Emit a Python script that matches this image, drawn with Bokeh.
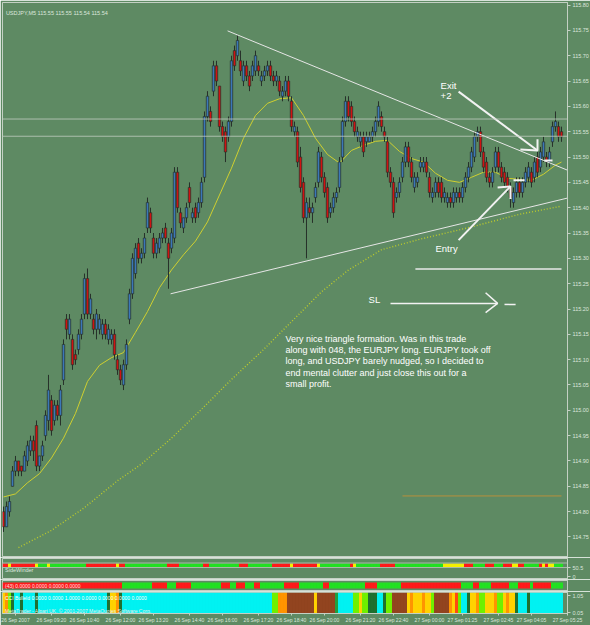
from bokeh.plotting import figure
from bokeh.models import Range1d, FixedTicker, Label, ColumnDataSource, PrintfTickFormatter, Span
from bokeh.layouts import column
from bokeh.embed import file_html
from bokeh.resources import INLINE
from bokeh.core.properties import value

# ---------------- data ----------------
SYMBOL_TITLE = "USDJPY,M5  115.55 115.55 115.54 115.54"
BASE_PRICE = 114.00          # all *_pips values are pips (0.01) above this price

open_pips = [80,77,80,85,88,90,89,88,90,92, 94,97,89,91,95,98,102,98,101,99,
             106,118,115,114,111,112,115,119,126,119, 118,116,116,115,117,114,114,115,110,108,
             105,109,118,123,127,133,130,131,136,139, 134,131,132,134,136,133,132,134,147,139,
             136,138,144,138,140,139,141,146,158,159, 163,168,164,156,155,154,157,171,170,169,
             165,168,166,166,167,168,165,166,167,168, 166,165,165,162,163,165,161,155,155,150,
             145,138,140,139,142,145,150,146,144,139, 140,142,144,150,157,161,160,157,154,153,
             154,153,153,154,155,157,158,155,153,147, 145,142,143,146,149,152,149,144,145,148,
             148,149,146,142,143,145,145,142,141,142, 141,142,143,142,144,146,148,150,154,155,
             151,149,146,145,148,151,148,147,146,144, 141,143,145,143,145,146,147,146,150,148,
             150,150,149,153,156,156,155]
high_pips = [81,82,83,89,91,90,89,92,94,95, 95,98,91,94,100,107,103,102,102,105,
             114,119,119,115,112,116,119,127,128,123, 119,120,119,118,118,117,116,116,111,109,
             110,114,124,131,133,134,132,135,142,140, 135,134,135,136,137,134,136,148,148,140,
             138,141,145,140,141,142,146,159,163,160, 169,169,164,157,156,158,170,172,174,171,
             169,169,167,169,171,169,167,168,169,169, 167,167,166,164,166,166,162,157,156,152,
             146,142,142,141,145,152,151,147,145,141, 143,144,150,158,162,162,161,158,156,155,
             155,155,155,156,158,161,159,156,154,148, 146,144,146,150,153,153,150,147,147,150,
             150,150,147,144,146,146,146,144,143,143, 144,144,144,145,147,149,152,155,156,156,
             152,150,147,148,152,152,149,148,147,145, 144,146,146,146,148,149,148,150,151,152,
             154,151,152,157,159,157,156]
low_pips = [76,77,79,85,87,87,87,88,89,91, 90,88,88,90,94,96,95,97,98,97,
            105,114,114,108,109,111,114,118,118,118, 115,114,115,114,114,113,113,110,107,105,
            104,108,117,122,126,129,129,130,135,135, 130,130,131,133,133,124,131,133,139,136,
            135,137,140,137,137,138,140,145,157,156, 162,164,155,153,149,153,156,167,169,166,
            164,165,163,165,166,166,164,165,166,165, 164,164,162,161,162,161,155,154,148,143,
            137,130,138,137,141,144,145,142,137,138, 139,141,143,149,156,157,156,154,153,152,
            150,152,153,153,154,156,155,153,146,144, 138,141,142,145,148,148,145,143,144,147,
            147,146,142,141,142,142,141,141,140,140, 140,141,141,141,143,145,147,149,153,150,
            147,145,144,144,147,147,145,144,143,140, 140,142,142,142,144,145,144,145,146,147,
            149,148,148,152,155,153,153]
close_pips = [77,81,82,88,90,88,88,91,93,94, 92,89,91,93,99,104,96,101,99,104,
              113,116,118,109,110,115,118,126,119,122, 116,119,118,117,115,116,115,111,108,106,
              109,113,123,130,132,130,131,134,141,136, 131,133,134,135,134,130,135,147,140,137,
              138,140,141,139,138,141,145,158,162,157, 168,165,156,154,151,157,169,168,173,167,
              168,166,164,168,170,167,166,167,168,166, 165,166,163,163,165,162,156,156,149,144,
              138,141,139,140,144,151,146,143,138,140, 142,143,149,157,161,158,157,155,155,154,
              151,154,154,155,157,160,156,154,147,145, 139,143,145,149,152,149,146,146,146,149,
              149,147,143,143,145,143,142,143,142,141, 143,143,142,144,146,148,151,154,155,151,
              148,146,145,147,151,148,146,145,144,142, 143,145,143,145,147,148,145,149,147,151,
              153,149,151,156,157,154,154]

# moving averages as drawn on the chart (bar index, pips)
ma_fast_bar = [0,4,8,12,16,20,24,28,32,36,40,44,48,52,56,60,64,68,72,76,80,84,88,92,
               96,100,104,108,112,116,120,124,128,132,136,140,144,148,152,156,160,164,168,172,
               176,180,184,186]
ma_fast_pips = [82.9,83.5,85.7,87.5,90.6,94.5,99.4,105.7,108.9,110.4,111.4,115.4,119.5,124.2,
                127.7,130.7,133.4,137.2,142.5,147.8,153.7,158.2,160.6,161.5,161.7,158.2,153.7,
                150.5,148.8,151.3,152.3,153.1,153.3,151.1,149.7,149.0,146.8,145.4,145.0,146.0,
                147.0,147.0,145.8,145.6,145.4,146.6,148.4,149.0]
ma_slow_bar = [5,16,27,38,46,56,66,76,86,96,106,115,126,139,156,172,186]
ma_slow_pips = [72.9,76.3,80.8,86.1,89.4,94.5,100.2,106.1,111.6,117.5,123.4,127.7,131.7,
                133.8,136.2,138.7,140.3]

price_ticks = [114.75,114.80,114.85,114.90,114.95,115.00,115.05,115.10,115.15,115.20,115.25,
               115.30,115.35,115.40,115.45,115.50,115.55,115.60,115.65,115.70,115.75,115.80]
time_tick_bar = [4,16,27,39,50,62,73,85,96,107,119,130,142,153,165,176,188]
time_tick_labels = ["26 Sep 2007","26 Sep 09:20","26 Sep 10:40","26 Sep 12:00","26 Sep 13:20",
                    "26 Sep 14:40","26 Sep 16:00","26 Sep 17:20","26 Sep 18:40","26 Sep 20:00",
                    "26 Sep 21:20","26 Sep 22:40","27 Sep 00:00","27 Sep 01:25","27 Sep 02:45",
                    "27 Sep 04:05","27 Sep 05:25"]

note_lines = ["Very nice triangle formation.  Was in this trade",
              "along with 048, the EURJPY long.  EURJPY took off",
              "long, and USDJPY barely nudged, so I decided to",
              "end mental clutter and just close this out for  a",
              "small profit."]

# indicator strips: run-length lists (colour key, number of bars)
sidewinder_runs = [("r",2),("y",1),("r",8),("y",1),("g",3),("y",1),("g",12),("r",10),("y",1),("r",2),
                   ("g",14),("r",4),("g",8),("r",2),("g",10),("r",3),("g",8),("r",6),("y",1),("r",8),
                   ("y",1),("g",10),("r",1),("y",1),("g",8),("r",5),("g",16),("y",7),("r",3),("g",4),
                   ("r",3),("g",3),("r",3),("y",2),("r",2),("g",5),("r",1),("y",1),("r",1),("y",2),("g",3)]
trend_runs = [("r",40),("g",10),("r",5),("g",3),("r",5),("g",10),("r",3),("g",2),("r",3),("g",3),
              ("r",2),("g",8),("r",5),("g",8),("r",2),("g",12),("r",4),("g",8),("r",20),("g",4),
              ("r",2),("g",4),("r",6),("g",3),("r",4),("g",1),("r",6),("g",4)]
histo_runs = [("Y",1),("O",1),("L",1),("D",1),("C",2),("D",1),("C",4),("D",1),("C",23),("D",1),
              ("Y",2),("O",1),("D",1),("C",50),("L",2),("O",3),("B",9),("Y",1),("B",6),("G",1),
              ("C",5),("L",2),("Y",1),("L",2),("D",3),("C",2),("D",1),("L",2),("B",5),("Y",1),
              ("O",1),("Y",3),("O",1),("Y",2),("L",1),("B",5),("O",1),("Y",1),("R",1),("L",1),
              ("C",2),("D",1),("Y",2),("O",1),("L",2),("Y",3),("O",1),("L",2),("Y",1),("O",1),
              ("Y",2),("D",1),("C",3),("D",1),("C",11)]

# ---------------- styling ----------------
BG = "#5e8a63"
AX = "#c4d0c4"
TXT = "#dde6dd"
FONT = "Liberation Sans"
UP, DOWN, WICK = "#3b77b8", "#d01212", "#27302a"
STRIP_COL = {"r": "#ff1a1a", "g": "#22e022", "y": "#f4f000"}
HISTO_COL = {"Y": "#ffd200", "O": "#ff9400", "L": "#70f000", "D": "#1f7030", "C": "#00f2f2",
             "B": "#92441f", "G": "#20a040", "R": "#ff4a10"}


def to_price(v):
    return BASE_PRICE + v / 100.0


def expand(runs, cmap):
    out = []
    for k, cnt in runs:
        out += [cmap[k]] * cnt
    return out


n = len(close_pips)
bars = list(range(n))
o = [to_price(v) for v in open_pips]
c = [to_price(v) for v in close_pips]
hi = [to_price(max(a, b, d)) for a, b, d in zip(high_pips, open_pips, close_pips)]
lo = [to_price(min(a, b, d)) for a, b, d in zip(low_pips, open_pips, close_pips)]
src = ColumnDataSource(dict(x=bars, hi=hi, lo=lo,
                            top=[max(a, b) for a, b in zip(o, c)],
                            bot=[min(a, b) for a, b in zip(o, c)],
                            col=[UP if b >= a else DOWN for a, b in zip(o, c)]))

xr = Range1d(-0.33, 188.0)


def base_fig(fh, yr, top_border, bottom_border=0, xaxis=False):
    f = figure(frame_width=565, frame_height=fh, x_range=xr, y_range=yr,
               output_backend="svg", toolbar_location=None,
               min_border_left=2, min_border_right=23, min_border_top=top_border,
               min_border_bottom=bottom_border,
               x_axis_location="below" if xaxis else None, y_axis_location="right",
               background_fill_color=BG, border_fill_color=BG,
               outline_line_color=AX, outline_line_width=1)
    f.xgrid.grid_line_color = None
    f.ygrid.grid_line_color = None
    for ax in f.yaxis:
        ax.axis_line_color = AX
        ax.major_tick_line_color = AX
        ax.major_tick_out = 3
        ax.major_tick_in = 0
        ax.minor_tick_line_color = None
        ax.major_label_text_font = FONT
        ax.major_label_text_font_size = "5.5px"
        ax.major_label_text_color = TXT
        ax.major_label_standoff = 2
    return f


# ---------------- main price panel ----------------
p = base_fig(555, Range1d(114.7095, 115.805), 2)
p.yaxis.ticker = FixedTicker(ticks=price_ticks)
p.yaxis.formatter = PrintfTickFormatter(format="%.2f")

for lvl in (115.575, 115.541):
    p.add_layout(Span(location=lvl, dimension="width", line_color="#c0ccc0", line_width=1, line_alpha=0.8))

# slow (dotted) and fast moving averages
p.line(ma_slow_bar, [to_price(v) for v in ma_slow_pips],
       line_color="#bccb2c", line_width=1.4, line_dash="1 2")
p.line(ma_fast_bar, [to_price(v) for v in ma_fast_pips], line_color="#cfcf30", line_width=1)

# candles
p.segment("x", "hi", "x", "lo", source=src, line_color=WICK, line_width=1)
p.vbar(x="x", width=0.8, top="top", bottom="bot", fill_color="col",
       line_color=WICK, line_width=0.7, source=src)

# hand drawn trendlines and annotations
W = "#f2f2f2"
p.line([74.7, 188.0], [115.749, 115.474], line_color="#e6e6e6", line_width=1)
p.line([55.7, 188.0], [115.230, 115.419], line_color="#e6e6e6", line_width=1)
p.line([137.3, 186.0], [115.279, 115.279], line_color="#e8e8e8", line_width=1.5)
p.line([133.0, 186.0], [114.831, 114.831], line_color="#b8903c", line_width=1)

# exit arrow
p.line([151.7, 178.0], [115.629, 115.513], line_color=W, line_width=2)
p.line([172.3, 178.0, 178.0], [115.515, 115.513, 115.535], line_color=W, line_width=2)
# entry arrow
p.line([151.7, 169.0], [115.336, 115.442], line_color=W, line_width=2)
p.line([164.7, 169.0, 169.0], [115.440, 115.442, 115.417], line_color=W, line_width=2)
# entry / exit markers
p.line([170.0, 173.7], [115.454, 115.454], line_color=W, line_width=2)
p.line([180.3, 183.0], [115.493, 115.493], line_color=W, line_width=2)
# SL arrow
p.line([129.0, 164.7], [115.211, 115.211], line_color=W, line_width=1.5)
p.line([160.7, 164.7, 160.7], [115.232, 115.211, 115.193], line_color=W, line_width=1.5)
p.line([167.0, 170.7], [115.209, 115.209], line_color=W, line_width=1.5)

for txt, x, y in (("Exit", 145.7, 115.641), ("+2", 145.7, 115.621), ("Entry", 144.0, 115.319),
                  ("SL", 121.7, 115.219)):
    p.add_layout(Label(x=x, y=y, text=txt, text_font=FONT, text_font_size="9.5px",
                       text_color="white", text_baseline="middle"))

p.text(x=[94.0] * len(note_lines), y=[115.140 - 0.0218 * k for k in range(len(note_lines))],
       text=note_lines, text_font=value(FONT), text_font_size="9px",
       text_color="white", text_baseline="middle")

p.add_layout(Label(x=0.8, y=115.785, text=SYMBOL_TITLE, text_font=FONT, text_font_size="5.5px",
                   text_color=TXT, text_baseline="middle"))
p.add_layout(Label(x=188.4, y=115.575, text="115.57", text_font=FONT, text_font_size="5.5px",
                   text_color="#dcdcc8", text_baseline="middle", background_fill_color="#8c9c8c"))
p.add_layout(Label(x=188.4, y=115.541, text="115.54", text_font=FONT, text_font_size="5.5px",
                   text_color="#202020", text_baseline="middle", background_fill_color="white"))

# ---------------- SideWinder strip ----------------
f1 = base_fig(21, Range1d(0, 21), 1)
sw = expand(sidewinder_runs, STRIP_COL)
f1.vbar(x=list(range(len(sw))), width=1.0, top=16, bottom=12.5, fill_color=sw, line_color=None)
f1.add_layout(Span(location=16.5, dimension="width", line_color="#a9b9a9", line_width=1))
f1.add_layout(Span(location=12.0, dimension="width", line_color="#a9b9a9", line_width=1))
f1.add_layout(Label(x=0.5, y=9.5, text="SideWinder", text_font=FONT, text_font_size="5.5px",
                    text_color=TXT, text_baseline="middle"))
f1.yaxis.ticker = FixedTicker(ticks=[12, 3])
f1.yaxis.major_label_overrides = {12: "50.5", 3: "0"}

# ---------------- trend strip ----------------
f2 = base_fig(11, Range1d(0, 11), 1)
tr = expand(trend_runs, STRIP_COL)
f2.vbar(x=list(range(len(tr))), width=1.0, top=9, bottom=3, fill_color=tr, line_color=None)
f2.add_layout(Label(x=0.5, y=6, text="(43) 0.0000 0.0000 0.0000 0.0000", text_font=FONT,
                    text_font_size="5px", text_color="#ffe0e0", text_baseline="middle"))
f2.add_layout(Label(x=188.4, y=6, text="0.0000", text_font=FONT, text_font_size="5px",
                    text_color="#202020", text_baseline="middle", background_fill_color="white"))
f2.yaxis.ticker = FixedTicker(ticks=[])

# ---------------- histogram strip with time axis ----------------
f3 = base_fig(21, Range1d(0, 21), 1, bottom_border=12, xaxis=True)
hc = expand(histo_runs, HISTO_COL)
f3.vbar(x=list(range(len(hc))), width=1.0, top=21, bottom=0, fill_color=hc, line_color=None)
f3.add_layout(Label(x=0.5, y=15.5, text="CCI Bulleld 0.0000 0.0000 1.0000 0.0000 0.0000 0.0000 0.0000",
                    text_font=FONT, text_font_size="5px", text_color="white", text_baseline="middle"))
f3.add_layout(Label(x=0.5, y=3, text="MetaTrader - Alpari UK, \u00a9 2001-2007 MetaQuotes Software Corp.",
                    text_font=FONT, text_font_size="5px", text_color="#e8ece8", text_baseline="middle"))
f3.yaxis.ticker = FixedTicker(ticks=[18, 1])
f3.yaxis.major_label_overrides = {18: "1.05", 1: "0.05"}
xa = f3.xaxis[0]
xa.ticker = FixedTicker(ticks=time_tick_bar)
xa.major_label_overrides = dict(zip(time_tick_bar, time_tick_labels))
xa.axis_line_color = AX
xa.major_tick_line_color = AX
xa.major_tick_out = 2
xa.major_tick_in = 0
xa.minor_tick_line_color = None
xa.major_label_text_font = FONT
xa.major_label_text_font_size = "5px"
xa.major_label_text_color = TXT
xa.major_label_standoff = 1

layout = column(p, f1, f2, f3, spacing=0)
open("out.html", "w").write(file_html(layout, INLINE))
